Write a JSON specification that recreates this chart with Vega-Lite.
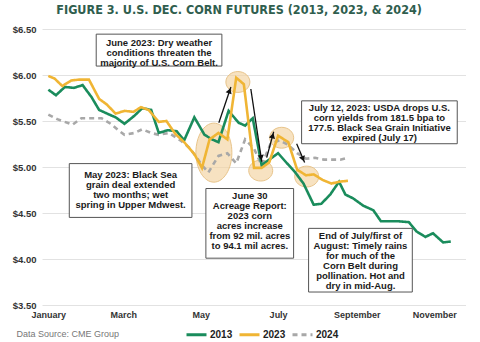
{
  "$schema": "https://vega.github.io/schema/vega-lite/v6.json",
  "width": 424,
  "height": 276,
  "padding": {"left": 12, "top": 3, "right": 0, "bottom": 0},
  "background": "white",
  "title": {
    "text": "FIGURE 3. U.S. DEC. CORN FUTURES (2013, 2023, & 2024)",
    "font": "DejaVu Sans Condensed, DejaVu Sans, sans-serif",
    "fontSize": 12.5,
    "fontWeight": "bold",
    "color": "#2f5e4e",
    "anchor": "middle",
    "frame": "bounds",
    "offset": 8
  },
  "config": {"view": {"stroke": null}, "font": "Liberation Sans"},
  "datasets": {
    "prices": [
      {"year": "2024", "day": 0, "price": 5.57},
      {"year": "2024", "day": 7, "price": 5.52},
      {"year": "2024", "day": 19, "price": 5.46},
      {"year": "2024", "day": 26, "price": 5.53},
      {"year": "2024", "day": 34, "price": 5.53},
      {"year": "2024", "day": 42, "price": 5.53},
      {"year": "2024", "day": 49, "price": 5.47},
      {"year": "2024", "day": 56, "price": 5.39},
      {"year": "2024", "day": 60, "price": 5.35},
      {"year": "2024", "day": 68, "price": 5.37},
      {"year": "2024", "day": 74, "price": 5.41},
      {"year": "2024", "day": 81, "price": 5.37},
      {"year": "2024", "day": 87, "price": 5.35},
      {"year": "2024", "day": 95, "price": 5.37},
      {"year": "2024", "day": 104, "price": 5.29},
      {"year": "2024", "day": 111, "price": 5.21},
      {"year": "2024", "day": 117, "price": 5.10},
      {"year": "2024", "day": 121, "price": 5.02},
      {"year": "2024", "day": 126, "price": 4.94},
      {"year": "2024", "day": 134, "price": 5.12},
      {"year": "2024", "day": 141, "price": 5.15},
      {"year": "2024", "day": 148, "price": 5.04},
      {"year": "2024", "day": 155, "price": 5.30},
      {"year": "2024", "day": 162, "price": 5.20},
      {"year": "2024", "day": 168, "price": 5.02},
      {"year": "2024", "day": 175, "price": 5.25},
      {"year": "2024", "day": 182, "price": 5.29},
      {"year": "2024", "day": 189, "price": 5.24},
      {"year": "2024", "day": 196, "price": 5.15},
      {"year": "2024", "day": 203, "price": 5.09},
      {"year": "2024", "day": 210, "price": 5.10},
      {"year": "2024", "day": 217, "price": 5.08},
      {"year": "2024", "day": 223, "price": 5.08},
      {"year": "2024", "day": 230, "price": 5.08},
      {"year": "2024", "day": 236, "price": 5.10},
      {"year": "2013", "day": 0, "price": 5.84},
      {"year": "2013", "day": 6, "price": 5.78},
      {"year": "2013", "day": 13, "price": 5.87},
      {"year": "2013", "day": 20, "price": 5.86},
      {"year": "2013", "day": 27, "price": 5.89},
      {"year": "2013", "day": 34, "price": 5.76},
      {"year": "2013", "day": 40, "price": 5.62},
      {"year": "2013", "day": 48, "price": 5.57},
      {"year": "2013", "day": 53, "price": 5.54},
      {"year": "2013", "day": 60, "price": 5.47},
      {"year": "2013", "day": 68, "price": 5.56},
      {"year": "2013", "day": 74, "price": 5.64},
      {"year": "2013", "day": 81, "price": 5.62},
      {"year": "2013", "day": 87, "price": 5.37},
      {"year": "2013", "day": 94, "price": 5.40},
      {"year": "2013", "day": 101, "price": 5.39},
      {"year": "2013", "day": 107, "price": 5.29},
      {"year": "2013", "day": 115, "price": 5.54},
      {"year": "2013", "day": 123, "price": 5.35},
      {"year": "2013", "day": 129, "price": 5.30},
      {"year": "2013", "day": 134, "price": 5.27},
      {"year": "2013", "day": 142, "price": 5.61},
      {"year": "2013", "day": 150, "price": 5.48},
      {"year": "2013", "day": 155, "price": 5.45},
      {"year": "2013", "day": 161, "price": 5.53},
      {"year": "2013", "day": 168, "price": 5.02},
      {"year": "2013", "day": 174, "price": 5.08},
      {"year": "2013", "day": 181, "price": 5.15},
      {"year": "2013", "day": 188, "price": 5.04},
      {"year": "2013", "day": 194, "price": 4.95},
      {"year": "2013", "day": 201, "price": 4.82},
      {"year": "2013", "day": 209, "price": 4.59},
      {"year": "2013", "day": 215, "price": 4.60},
      {"year": "2013", "day": 222, "price": 4.70},
      {"year": "2013", "day": 229, "price": 4.84},
      {"year": "2013", "day": 234, "price": 4.70},
      {"year": "2013", "day": 240, "price": 4.66},
      {"year": "2013", "day": 248, "price": 4.58},
      {"year": "2013", "day": 256, "price": 4.53},
      {"year": "2013", "day": 262, "price": 4.41},
      {"year": "2013", "day": 269, "price": 4.41},
      {"year": "2013", "day": 276, "price": 4.41},
      {"year": "2013", "day": 284, "price": 4.40},
      {"year": "2013", "day": 290, "price": 4.30},
      {"year": "2013", "day": 297, "price": 4.24},
      {"year": "2013", "day": 303, "price": 4.28},
      {"year": "2013", "day": 311, "price": 4.18},
      {"year": "2013", "day": 317, "price": 4.19},
      {"year": "2023", "day": 0, "price": 5.99},
      {"year": "2023", "day": 5, "price": 5.96},
      {"year": "2023", "day": 11, "price": 5.88},
      {"year": "2023", "day": 18, "price": 5.94},
      {"year": "2023", "day": 24, "price": 5.95},
      {"year": "2023", "day": 32, "price": 5.95},
      {"year": "2023", "day": 40, "price": 5.74},
      {"year": "2023", "day": 46, "price": 5.68},
      {"year": "2023", "day": 53, "price": 5.58},
      {"year": "2023", "day": 60, "price": 5.61},
      {"year": "2023", "day": 67, "price": 5.60},
      {"year": "2023", "day": 73, "price": 5.65},
      {"year": "2023", "day": 79, "price": 5.62},
      {"year": "2023", "day": 87, "price": 5.49},
      {"year": "2023", "day": 93, "price": 5.50},
      {"year": "2023", "day": 100, "price": 5.36},
      {"year": "2023", "day": 107, "price": 5.27},
      {"year": "2023", "day": 115, "price": 5.14},
      {"year": "2023", "day": 121, "price": 4.99},
      {"year": "2023", "day": 127, "price": 5.30},
      {"year": "2023", "day": 134, "price": 5.37},
      {"year": "2023", "day": 141, "price": 5.30},
      {"year": "2023", "day": 148, "price": 5.97},
      {"year": "2023", "day": 154, "price": 5.90},
      {"year": "2023", "day": 162, "price": 4.99},
      {"year": "2023", "day": 168, "price": 4.99},
      {"year": "2023", "day": 174, "price": 5.05},
      {"year": "2023", "day": 181, "price": 5.34},
      {"year": "2023", "day": 189, "price": 5.27},
      {"year": "2023", "day": 196, "price": 4.97},
      {"year": "2023", "day": 203, "price": 4.91},
      {"year": "2023", "day": 209, "price": 4.92},
      {"year": "2023", "day": 216, "price": 4.86},
      {"year": "2023", "day": 223, "price": 4.82},
      {"year": "2023", "day": 229, "price": 4.84},
      {"year": "2023", "day": 236, "price": 4.85}
    ],
    "bigEllipse": [{"day": 130.4, "price": 5.156}],
    "smallEllipses": [
      {"day": 149.3, "price": 5.924},
      {"day": 167.3, "price": 4.961},
      {"day": 183.8, "price": 5.318},
      {"day": 203.5, "price": 4.896}
    ],
    "arrows": [
      {"day": 134.3, "price": 5.481, "day2": 143.8, "price2": 5.870},
      {"day": 159.5, "price": 5.848, "day2": 168.1, "price2": 5.058},
      {"day": 172.0, "price": 5.102, "day2": 177.5, "price2": 5.383},
      {"day": 195.6, "price": 5.253, "day2": 201.9, "price2": 5.048}
    ],
    "headA": [{"day": 142.7, "price": 5.829}],
    "headB": [{"day": 167.6, "price": 5.102}],
    "headC": [{"day": 176.7, "price": 5.341}],
    "headD": [{"day": 200.6, "price": 5.088}],
    "boxes": [
      {"day": 37.7, "day2": 136.7, "price": 6.444, "price2": 6.097},
      {"day": 199.5, "day2": 322.1, "price": 5.719, "price2": 5.253},
      {"day": 16.5, "day2": 113.1, "price": 5.037, "price2": 4.452},
      {"day": 124.1, "day2": 193.2, "price": 4.766, "price2": 4.009},
      {"day": 205.0, "day2": 286.7, "price": 4.333, "price2": 3.641}
    ],
    "notes": [
      {"day": 87.2, "price": 6.346, "text": "June 2023: Dry weather\nconditions threaten the\nmajority of U.S. Corn Belt."},
      {"day": 260.8, "price": 5.643, "text": "July 12, 2023: USDA drops U.S.\ncorn yields from 181.5 bpa to\n177.5. Black Sea Grain Initiative\nexpired (July 17)"},
      {"day": 64.8, "price": 4.918, "text": "May 2023: Black Sea\ngrain deal extended\ntwo months; wet\nspring in Upper Mdwest."},
      {"day": 158.7, "price": 4.680, "text": "June 30\nAcreage Report:\n2023 corn\nacres increase\nfrom 92 mil. acres\nto 94.1 mil acres."},
      {"day": 245.9, "price": 4.247, "text": "End of July/first of\nAugust: Timely rains\nfor much of the\nCorn Belt during\npollination. Hot and\ndry in mid-Aug."}
    ]
  },
  "encoding": {
    "x": {
      "field": "day",
      "type": "quantitative",
      "title": "Data Source: CME Group",
      "scale": {"domain": [-5, 329], "nice": false, "zero": false},
      "axis": {
        "values": [0, 59, 120, 181, 243, 304],
        "labelExpr": "datum.value == 0 ? 'January' : datum.value == 59 ? 'March' : datum.value == 120 ? 'May' : datum.value == 181 ? 'July' : datum.value == 243 ? 'September' : 'November'",
        "grid": false,
        "ticks": false,
        "domain": false,
        "labelFontSize": 9,
        "labelFontWeight": "bold",
        "labelColor": "#333333",
        "labelPadding": 5,
        "labelOverlap": false,
        "labelFlush": false,
        "titleX": -26,
        "titleY": 31,
        "titleAlign": "left",
        "titleAnchor": "start",
        "titleBaseline": "alphabetic",
        "titleFontSize": 9,
        "titleFontWeight": "normal",
        "titleColor": "#777777"
      }
    },
    "y": {
      "field": "price",
      "type": "quantitative",
      "title": null,
      "scale": {"domain": [3.5, 6.5], "nice": false, "zero": false},
      "axis": {
        "values": [3.5, 4, 4.5, 5, 5.5, 6, 6.5],
        "format": "$.2f",
        "grid": true,
        "gridColor": "#e2e2e2",
        "ticks": false,
        "domain": false,
        "labelFontSize": 9.5,
        "labelFontWeight": "bold",
        "labelColor": "#333333",
        "labelPadding": 6
      }
    }
  },
  "layer": [
    {
      "data": {"name": "bigEllipse"},
      "mark": {
        "type": "point",
        "shape": "M-1,0C-1,-0.905,-0.552,-1.64,0,-1.64C0.552,-1.64,1,-0.905,1,0C1,0.905,0.552,1.64,0,1.64C-0.552,1.64,-1,0.905,-1,0Z",
        "size": 1296,
        "filled": true,
        "fill": "#f3d3a0",
        "fillOpacity": 0.65,
        "stroke": "#e8c48a",
        "strokeWidth": 1,
        "opacity": 1
      }
    },
    {
      "data": {"name": "smallEllipses"},
      "mark": {
        "type": "point",
        "shape": "M-1,0C-1,-0.48,-0.552,-0.87,0,-0.87C0.552,-0.87,1,-0.48,1,0C1,0.48,0.552,0.87,0,0.87C-0.552,0.87,-1,0.48,-1,0Z",
        "size": 576,
        "filled": true,
        "fill": "#f3d3a0",
        "fillOpacity": 0.65,
        "stroke": "#e8c48a",
        "strokeWidth": 1,
        "opacity": 1
      }
    },
    {
      "data": {"name": "prices"},
      "mark": {"type": "line", "strokeWidth": 2.6},
      "encoding": {
        "color": {
          "field": "year",
          "type": "nominal",
          "scale": {"domain": ["2013", "2023", "2024"], "range": ["#1a8c5c", "#f0b534", "#a8a8a8"]},
          "legend": {
            "orient": "none",
            "legendX": 143,
            "legendY": 294,
            "direction": "horizontal",
            "title": null,
            "symbolType": "stroke",
            "symbolSize": 400,
            "symbolStrokeWidth": 3,
            "labelFontSize": 10,
            "labelFontWeight": "bold",
            "labelColor": "#222222",
            "columnPadding": 0,
            "labelOffset": 2
          }
        },
        "strokeDash": {
          "field": "year",
          "type": "nominal",
          "scale": {"domain": ["2013", "2023", "2024"], "range": [[1, 0], [1, 0], [5, 4]]},
          "legend": {
            "orient": "none",
            "legendX": 143,
            "legendY": 294,
            "direction": "horizontal",
            "title": null,
            "symbolType": "stroke",
            "symbolSize": 400,
            "symbolStrokeWidth": 3,
            "labelFontSize": 10,
            "labelFontWeight": "bold",
            "labelColor": "#222222",
            "columnPadding": 0,
            "labelOffset": 2
          }
        }
      }
    },
    {
      "data": {"name": "arrows"},
      "mark": {"type": "rule", "color": "#111111", "strokeWidth": 1.3},
      "encoding": {
        "x2": {"field": "day2"},
        "y2": {"field": "price2"}
      }
    },
    {
      "data": {"name": "headA"},
      "mark": {"type": "point", "shape": "triangle-up", "filled": true, "color": "#111111", "size": 40, "angle": 19, "opacity": 1}
    },
    {
      "data": {"name": "headB"},
      "mark": {"type": "point", "shape": "triangle-up", "filled": true, "color": "#111111", "size": 40, "angle": 171, "opacity": 1}
    },
    {
      "data": {"name": "headC"},
      "mark": {"type": "point", "shape": "triangle-up", "filled": true, "color": "#111111", "size": 40, "angle": 15, "opacity": 1}
    },
    {
      "data": {"name": "headD"},
      "mark": {"type": "point", "shape": "triangle-up", "filled": true, "color": "#111111", "size": 40, "angle": 157, "opacity": 1}
    },
    {
      "data": {"name": "boxes"},
      "mark": {"type": "rect", "fill": "white", "stroke": "#555555", "strokeWidth": 1},
      "encoding": {
        "x2": {"field": "day2"},
        "y2": {"field": "price2"}
      }
    },
    {
      "data": {"name": "notes"},
      "mark": {
        "type": "text",
        "lineBreak": "\n",
        "lineHeight": 10,
        "fontSize": 9.5,
        "fontWeight": "bold",
        "font": "Liberation Sans",
        "color": "#1a1a1a",
        "align": "center",
        "baseline": "middle"
      },
      "encoding": {
        "text": {"field": "text", "type": "nominal"}
      }
    }
  ]
}
